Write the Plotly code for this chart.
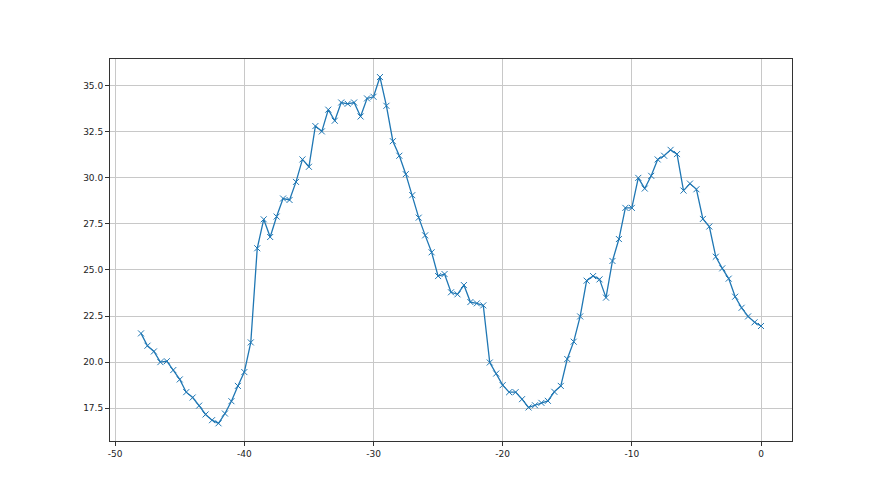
import numpy as np
import plotly.graph_objects as go

x_vals = [i * 0.5 for i in range(-96, 1)]
y_vals = [
    21.56, 20.89, 20.58, 20.00, 20.05, 19.57, 19.06, 18.37, 18.08, 17.64,
    17.16, 16.85, 16.68, 17.21, 17.88, 18.71, 19.46, 21.07, 26.18, 27.75,
    26.79, 27.90, 28.88, 28.80, 29.78, 31.00, 30.60, 32.81, 32.52, 33.70,
    33.10, 34.09, 34.02, 34.09, 33.33, 34.31, 34.40, 35.47, 33.91, 31.99,
    31.20, 30.20, 29.06, 27.84, 26.88, 25.96, 24.67, 24.78, 23.79, 23.68,
    24.18, 23.26, 23.19, 23.08, 19.98, 19.38, 18.75, 18.37, 18.37, 17.99,
    17.54, 17.66, 17.79, 17.90, 18.39, 18.71, 20.17, 21.11, 22.48, 24.42,
    24.67, 24.49, 23.50, 25.49, 26.68, 28.37, 28.37, 30.00, 29.42, 30.11,
    31.00, 31.20, 31.52, 31.29, 29.31, 29.69, 29.38, 27.77, 27.36, 25.72,
    25.09, 24.53, 23.55, 22.95, 22.48, 22.16, 21.96,
]
x_ticks = [-50, -40, -30, -20, -10, 0]
y_ticks = [17.5, 20.0, 22.5, 25.0, 27.5, 30.0, 32.5, 35.0]

fig = go.Figure()
fig.add_trace(go.Scatter(
    x=x_vals, y=y_vals, mode="lines+markers",
    line=dict(color="#1f77b4", width=1.3),
    marker=dict(symbol="x-thin", size=6, color="#1f77b4",
                line=dict(color="#1f77b4", width=1)),
    showlegend=False,
))

axis_common = dict(
    showline=True, linecolor="#333333", linewidth=1, mirror=True,
    showgrid=True, gridcolor="#c8c8c8", gridwidth=1,
    ticks="outside", ticklen=4, tickcolor="#333333",
    zeroline=False, tickfont=dict(family="DejaVu Sans", size=9, color="#222222"),
)
fig.update_xaxes(range=[-50.4, 2.4], tickvals=x_ticks,
                 ticktext=[str(v) for v in x_ticks], **axis_common)
fig.update_yaxes(range=[15.72, 36.45], tickvals=y_ticks,
                 ticktext=[f"{v:.1f}" for v in y_ticks], **axis_common)

fig.update_layout(
    width=880, height=495,
    margin=dict(l=102, r=96, t=51, b=62),
    plot_bgcolor="white", paper_bgcolor="white",
)
fig.write_html("out.html")
